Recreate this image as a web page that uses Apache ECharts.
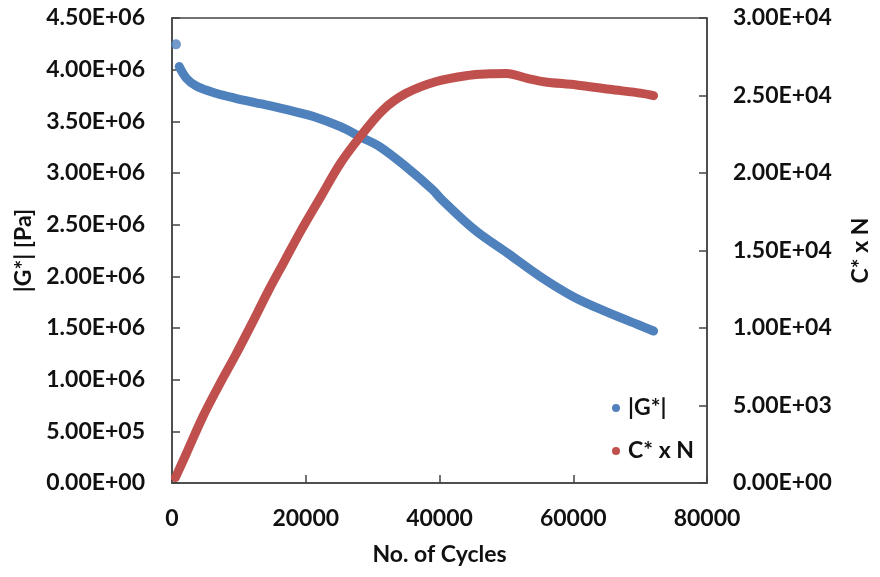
<!DOCTYPE html>
<html>
<head>
<meta charset="utf-8">
<script src="https://cdn.jsdelivr.net/npm/echarts@6/dist/echarts.min.js"></script>
<style>
  html, body { margin: 0; padding: 0; background: #fff; }
  #chart { width: 880px; height: 577px; }
</style>
</head>
<body>
<div id="chart"></div>
<script>
// ---- data ----
const gOutlierCycles = [590];
const gOutlierValues = [4245000];
const gCycles = [1080, 2160, 3630, 6570, 9510, 13430, 17350, 21270, 25190, 28130, 31070, 35000, 38930, 40390, 45290, 50190, 55100, 60000, 64900, 69810, 72010];
const gValues = [4030000, 3916000, 3842000, 3771000, 3723000, 3668000, 3610000, 3545000, 3448000, 3351000, 3254000, 3060000, 2840000, 2739000, 2448000, 2223000, 1996000, 1803000, 1658000, 1529000, 1471000];

const cCycles = [500, 690, 2160, 4610, 7060, 9510, 11960, 14410, 16860, 19310, 22250, 25190, 28130, 31560, 35000, 39410, 44310, 47500, 50000, 53130, 55590, 60490, 65390, 70290, 72010];
const cValues = [350, 516, 1916, 4278, 6323, 8258, 10300, 12400, 14350, 16300, 18470, 20630, 22340, 24070, 25140, 25890, 26300, 26400, 26420, 26110, 25890, 25680, 25400, 25140, 24990];

const xTickLabels = ['0', '20000', '40000', '60000', '80000'];
const gTickLabels = ['0.00E+00', '5.00E+05', '1.00E+06', '1.50E+06', '2.00E+06', '2.50E+06', '3.00E+06', '3.50E+06', '4.00E+06', '4.50E+06'];
const cTickLabels = ['0.00E+00', '5.00E+03', '1.00E+04', '1.50E+04', '2.00E+04', '2.50E+04', '3.00E+04'];

const seriesNames = ['|G*|', 'C* x N'];
const xAxisName = 'No. of Cycles';
const gAxisName = '|G*| [Pa]';
const cAxisName = 'C* x N';

// ---- chart ----
const FONT = 'Lato';
const TXT = '#111';
const AXC = '#444';
const BLUE = '#4F81BD';
const RED = '#C0504D';

const zip = (a, b) => a.map((v, i) => [v, b[i]]);

const labelStyle = { fontFamily: FONT, fontWeight: 'bold', fontSize: 23, color: TXT };

const chart = echarts.init(document.getElementById('chart'), null, { renderer: 'canvas' });
chart.setOption({
  animation: false,
  backgroundColor: '#fff',
  grid: { left: 172, right: 164, top: 18, bottom: 94, show: true, borderColor: AXC, borderWidth: 1.5, backgroundColor: 'transparent' },
  legend: {
    data: seriesNames,
    orient: 'vertical',
    left: 607,
    top: 391,
    icon: 'circle',
    itemWidth: 8,
    itemHeight: 8,
    itemGap: 19,
    textStyle: { fontFamily: FONT, fontWeight: 'bold', fontSize: 23, color: TXT, lineHeight: 24, padding: [0, 0, 0, 3] }
  },
  xAxis: {
    type: 'value', min: 0, max: 80000, interval: 20000,
    name: xAxisName, nameLocation: 'middle', nameGap: 60,
    nameTextStyle: labelStyle,
    axisLine: { show: true, lineStyle: { color: AXC, width: 1.5 } },
    axisTick: { show: true, inside: true, length: 8, lineStyle: { color: AXC, width: 1.5 } },
    axisLabel: Object.assign({ margin: 24, formatter: (v, i) => xTickLabels[i] }, labelStyle),
    splitLine: { show: false }
  },
  yAxis: [
    {
      type: 'value', min: 0, max: 4500000, interval: 500000, position: 'left',
      name: gAxisName, nameLocation: 'middle', nameRotate: 90, nameGap: 137,
      nameTextStyle: labelStyle,
      axisLine: { show: true, lineStyle: { color: AXC, width: 1.5 } },
      axisTick: { show: true, inside: true, length: 8, lineStyle: { color: AXC, width: 1.5 } },
      axisLabel: Object.assign({ margin: 27, formatter: (v, i) => gTickLabels[i] }, labelStyle),
      splitLine: { show: false }
    },
    {
      type: 'value', min: 0, max: 30000, interval: 5000, position: 'right',
      name: cAxisName, nameLocation: 'middle', nameRotate: 90, nameGap: 142,
      nameTextStyle: labelStyle,
      axisLine: { show: true, lineStyle: { color: AXC, width: 1.5 } },
      axisTick: { show: true, inside: true, length: 8, lineStyle: { color: AXC, width: 1.5 } },
      axisLabel: Object.assign({ margin: 26, formatter: (v, i) => cTickLabels[i] }, labelStyle),
      splitLine: { show: false }
    }
  ],
  series: [
    {
      name: seriesNames[0], type: 'line', yAxisIndex: 0,
      data: zip(gCycles, gValues),
      showSymbol: false, smooth: 0.35,
      lineStyle: { color: BLUE, width: 9, cap: 'round', join: 'round' },
      itemStyle: { color: BLUE }
    },
    {
      name: seriesNames[0], type: 'scatter', yAxisIndex: 0,
      data: zip(gOutlierCycles, gOutlierValues),
      symbol: 'circle', symbolSize: 10,
      itemStyle: { color: BLUE }
    },
    {
      name: seriesNames[1], type: 'line', yAxisIndex: 1,
      data: zip(cCycles, cValues),
      showSymbol: false, smooth: 0.35,
      lineStyle: { color: RED, width: 9, cap: 'round', join: 'round' },
      itemStyle: { color: RED }
    }
  ]
});
</script>
</body>
</html>
